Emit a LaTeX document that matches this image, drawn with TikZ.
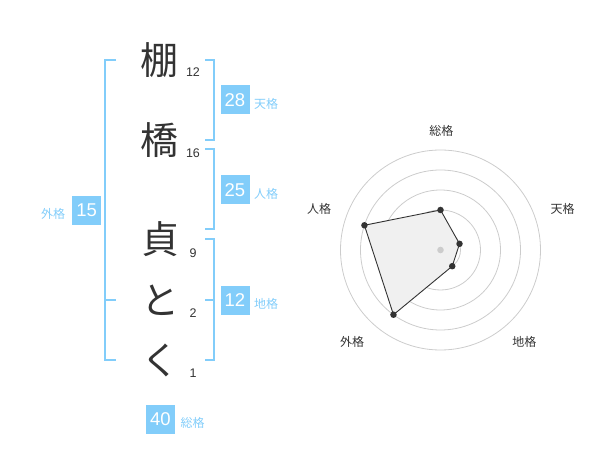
\documentclass[tikz,border=0pt]{standalone}
\usepackage{fontspec}
\setmainfont{Liberation Sans}
\newfontfamily\cjk{Noto Sans CJK JP}
\definecolor{kblue}{RGB}{130,205,250}
\definecolor{kdark}{RGB}{51,51,51}
\begin{document}
\begin{tikzpicture}[x=1pt,y=-1pt,
 bigchar/.style={font=\cjk\fontsize{38}{38}\selectfont, text=kdark, inner sep=0},
 strokes/.style={font=\fontsize{12.5}{12.5}\selectfont, text=kdark, inner sep=0},
 scorebox/.style={fill=kblue, text=white, minimum width=29pt, minimum height=29pt, inner sep=0, font=\fontsize{18.5}{18.5}\selectfont},
 scorelabel/.style={font=\cjk\fontsize{12}{12}\selectfont, text=kblue, inner sep=0},
 bracket/.style={draw=kblue, line width=2pt},
 ring/.style={draw=black!20, line width=0.8pt},
 axislabel/.style={font=\cjk\fontsize{12}{12}\selectfont, text=kdark, inner sep=0},
 datadot/.style={circle, fill=kdark, inner sep=0, minimum size=6.5pt},
]
\useasboundingbox (0,0) rectangle (600,470);
% name characters
\node[bigchar] (c1) at (159.5,60) {棚};
\node[bigchar] (c2) at (159.5,140) {橋};
\node[bigchar] (c3) at (160,239) {貞};
\node[bigchar] (c4) at (160,300) {と};
\node[bigchar] (c5) at (160,360) {く};
% stroke counts
\node[strokes] (n1) at (193,72) {12};
\node[strokes] (n2) at (193,152.7) {16};
\node[strokes] (n3) at (193,253) {9};
\node[strokes] (n4) at (193,313) {2};
\node[strokes] (n5) at (193,373) {1};
% brackets
\draw[bracket] (116,60) -- (105,60) -- (105,360) -- (116,360);
\draw[bracket] (105,300) -- (116,300);
\draw[bracket] (205,60) -- (214,60) -- (214,140) -- (205,140);
\draw[bracket] (205,149.3) -- (214,149.3) -- (214,229.3) -- (205,229.3);
\draw[bracket] (205,239.3) -- (214,239.3) -- (214,360) -- (205,360);
\draw[bracket] (205,300) -- (214,300);
% score boxes
\node[scorebox] (ten) at (235,100) {28};
\node[scorelabel] (tenl) at (266,103.5) {天格};
\node[scorebox] (jin) at (235,190) {25};
\node[scorelabel] (jinl) at (266,193.5) {人格};
\node[scorebox] (chi) at (235,300.3) {12};
\node[scorelabel] (chil) at (266,303.5) {地格};
\node[scorebox] (gai) at (86.7,210.3) {15};
\node[scorelabel] (gail) at (53,213.5) {外格};
\node[scorebox] (so) at (160.5,419) {40};
\node[scorelabel] (sol) at (192.5,422.5) {総格};
% radar chart
\begin{scope}[shift={(440.5,250)}, yscale=-1]
  \foreach \r in {20,40,60,80,100} \draw[ring] (0,0) circle[radius=\r pt];
  \coordinate (p1) at (90:40);
  \coordinate (p2) at (18:20);
  \coordinate (p3) at (-54:20);
  \coordinate (p4) at (-126:80);
  \coordinate (p5) at (162:80);
  \draw[fill=black!6, draw=kdark, line width=0.9pt, line join=round] (p1) -- (p2) -- (p3) -- (p4) -- (p5) -- cycle;
  \fill[black!20] (0,0) circle[radius=3.3pt];
  \foreach \i in {1,...,5} \node[datadot] (d\i) at (p\i) {};
\end{scope}
\node[axislabel] (a1) at (441.3,130.5) {総格};
\node[axislabel] (a2) at (562.5,208.7) {天格};
\node[axislabel] (a3) at (524.3,342) {地格};
\node[axislabel] (a4) at (352,342) {外格};
\node[axislabel] (a5) at (319.2,208.7) {人格};
\end{tikzpicture}
\end{document}
